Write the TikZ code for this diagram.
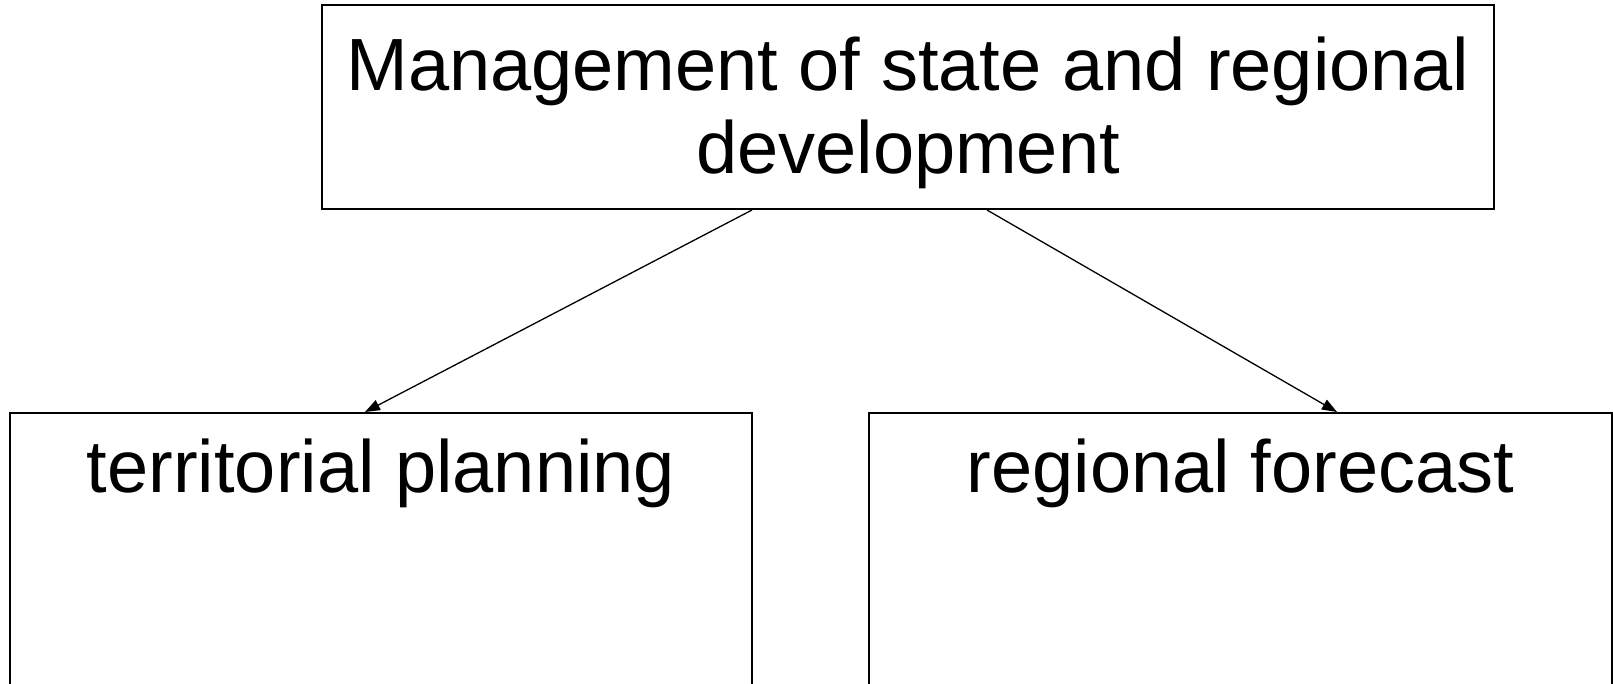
\documentclass[tikz,border=0pt]{standalone}
\usepackage{fontspec}
\setmainfont{Liberation Sans}
\usetikzlibrary{arrows.meta}
\begin{document}
\begin{tikzpicture}[x=1pt,y=-1pt,
  box/.style={draw=black,line width=2pt,rectangle,inner sep=0pt},
  label/.style={anchor=base,inner sep=0pt,font=\fontsize{74}{83}\selectfont},
  link/.style={draw=black,line width=1.3pt,-{Triangle[length=15pt,width=11pt]}}]
  \clip (0,0) rectangle (1613,683);
  \fill[white] (0,0) rectangle (1613,683);
  % top box
  \node[box,minimum width=1172pt,minimum height=204pt] (mgmt) at (908,107) {};
  \node[label] (mgmtA) at (908,90) {Management of state and regional};
  \node[label] (mgmtB) at (908,173) {development};
  % lower boxes (run past the lower edge)
  \node[box,minimum width=742pt,minimum height=370pt] (terr) at (381,598) {};
  \node[box,minimum width=743pt,minimum height=370pt] (fcst) at (1240.5,598) {};
  \node[label] (terrT) at (381,492) {territorial planning};
  \node[label] (fcstT) at (1240.5,492) {regional forecast};
  % connectors
  \draw[link] ([xshift=-156pt]mgmt.south) -- ([xshift=-16pt]terr.north);
  \draw[link] ([xshift=79pt]mgmt.south) -- ([xshift=96.5pt]fcst.north);
\end{tikzpicture}
\end{document}
